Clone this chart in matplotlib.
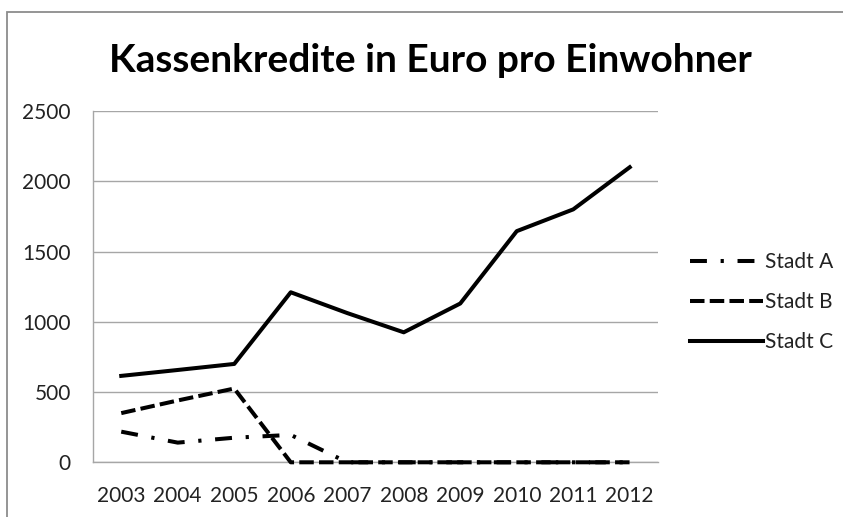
import matplotlib
matplotlib.use("Agg")
import matplotlib.pyplot as plt
from matplotlib.patches import Rectangle

years = ["2003", "2004", "2005", "2006", "2007", "2008", "2009", "2010", "2011", "2012"]
stadt_a = [218, 140, 175, 195, 0, 0, 0, 0, 0, 0]
stadt_b = [350, 440, 525, 0, 0, 0, 0, 0, 0, 0]
stadt_c = [615, 657, 700, 1210, 1062, 925, 1130, 1645, 1800, 2100]
y_ticks = [0, 500, 1000, 1500, 2000, 2500]

W, H = 843, 517
fig = plt.figure(figsize=(W / 100, H / 100), dpi=100)
plt.rcParams['font.family'] = ['Lato', 'DejaVu Sans']

# outer chart frame (runs off the right and bottom edges)
fig.patches.append(Rectangle((7 / W, -0.05), 1.1, (H - 11.7) / H + 0.05,
                             transform=fig.transFigure, fill=False,
                             edgecolor="#8c8c8c", linewidth=1.3))

ax = fig.add_axes([93 / W, (H - 462.3) / H, (658 - 93) / W, (462.3 - 111) / H])
x = list(range(len(years)))

lw = 2.9
common = dict(color="black", lw=lw, clip_on=False, zorder=4)
ax.plot(x, stadt_a, linestyle=(0, (4.2, 3.4, 0.8, 3.4)), label="Stadt A", **common)
ax.plot(x, stadt_b, linestyle=(0, (3.6, 1.3)), label="Stadt B", **common)
ax.plot(x, stadt_c, linestyle="-", label="Stadt C", solid_joinstyle="round", **common)

ax.set_xlim(-0.5, len(years) - 0.5)
ax.set_ylim(0, 2500)
ax.set_yticks(y_ticks)
ax.set_yticklabels([str(v) for v in y_ticks])
ax.set_xticks(x)
ax.set_xticklabels(years)
ax.tick_params(axis="both", length=0, labelsize=15, colors="#222222")
ax.tick_params(axis="y", pad=16)
ax.tick_params(axis="x", pad=17)
ax.grid(axis="y", color="#a6a6a6", linewidth=1)
ax.set_axisbelow(True)
for side in ("top", "right"):
    ax.spines[side].set_visible(False)
for side in ("left", "bottom"):
    ax.spines[side].set_color("#a6a6a6")
    ax.spines[side].set_linewidth(1)

fig.text(430 / W, (H - 60) / H, "Kassenkredite in Euro pro Einwohner",
         ha="center", va="center", fontsize=28, fontweight="bold")

leg = ax.legend(loc="center left", bbox_to_anchor=(690 / W, (H - 302) / H),
                bbox_transform=fig.transFigure, frameon=False, fontsize=15,
                handlelength=3.5, handletextpad=0.1, labelspacing=0.95,
                borderaxespad=0, borderpad=0)
for t in leg.get_texts():
    t.set_color("#222222")

fig.savefig("out.png", dpi=100, facecolor="white")
